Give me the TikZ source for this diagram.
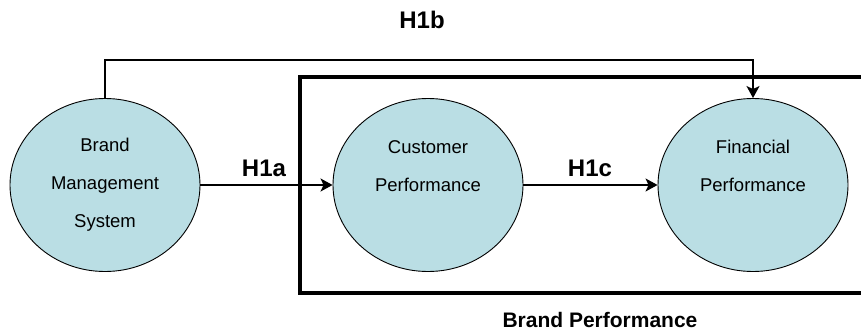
\documentclass[tikz,border=0pt]{standalone}
\usepackage{fontspec}
\setmainfont{Liberation Sans}
\usetikzlibrary{shapes.geometric,arrows.meta}
\definecolor{unitfill}{RGB}{186,222,228}
\tikzset{
  unit/.style={ellipse,draw,line width=0.9pt,fill=unitfill,inner sep=0pt,
    minimum width=190pt,minimum height=173pt,align=center,
    font=\fontsize{18.5}{38}\selectfont},
  hyp/.style={font=\fontsize{24}{28}\selectfont\bfseries},
  link/.style={line width=1.5pt,-{Stealth[length=12pt,width=13pt,inset=3pt]}}
}
\begin{document}
\begin{tikzpicture}[x=1pt,y=1pt]
        \useasboundingbox (0,0) rectangle (861,333);
        %% Brand performance frame
        \begin{scope}
        \clip (0,0) rectangle (861,333);
        \draw[line width=4pt] (870,256) -- (300,256) -- (300,40) -- (870,40);
        \end{scope}
        \node[font=\fontsize{21}{25}\selectfont\bfseries] (frame) at (600,13) {Brand Performance};
        %% Constructs
        \node[unit] (bms) at (105,148) {Brand\\Management\\System};
        \node[unit] (cust) at (428,148) {Customer\\Performance\\\mbox{}};
        \node[unit] (fin) at (753,148) {Financial\\Performance\\\mbox{}};
        %% Hypotheses
        \coordinate (up1) at (bms.north |- 0,273);
        \coordinate (up2) at (fin.north |- 0,273);
        \draw[link] (bms.north) -- (up1) -- (up2) -- (fin.north);
        \draw[link] (bms.east) -- (cust.west);
        \draw[link] (cust.east) -- (fin.west);
        \node[hyp] (h1b) at (422,313) {H1b};
        \node[hyp] (h1a) at (264,165) {H1a};
        \node[hyp] (h1c) at (590,165) {H1c};
    \end{tikzpicture}
\end{document}
